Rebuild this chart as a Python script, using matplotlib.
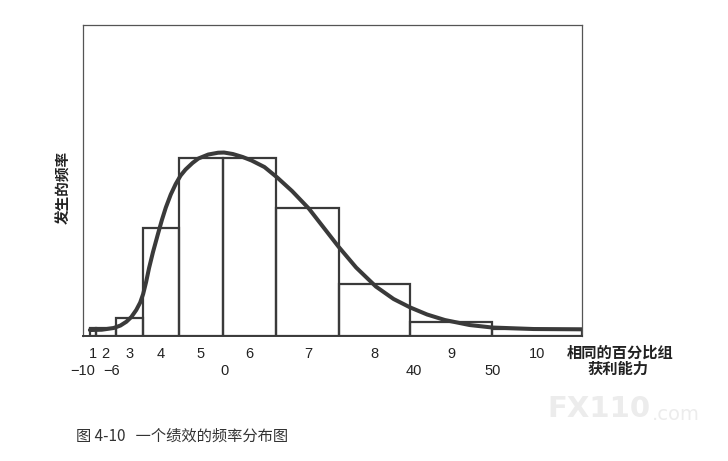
import matplotlib.pyplot as plt
import numpy as np

plt.rcParams['font.family'] = ['Liberation Sans', 'Noto Sans CJK SC', 'DejaVu Sans']

# histogram of groups 1..10 (bin edges in chart units, frequency heights)
groups = ['1', '2', '3', '4', '5', '6', '7', '8', '9', '10']
edges = [0, 6, 26, 54, 90, 135, 189, 253, 325, 408, 499]
freq = [7.7, 7.7, 18, 108, 178, 178, 128, 52, 14.5, 7]

# profit labels under the bins
profit_pos = [-7, 22, 137, 328, 408]
profit_labels = ['\u221210', '\u22126', '0', '40', '50']

# smooth fitted curve
curve_x = [0, 12, 24, 31, 37, 42, 47, 51, 54, 57, 60, 64, 69, 73, 77, 82, 87,
           92, 97, 104, 110, 120, 130, 136, 145, 155, 164, 177, 190, 205, 222,
           237, 252, 270, 290, 308, 325, 342, 360, 385, 408, 450, 499]
curve_y = [6, 6.3, 8, 10.5, 14.3, 19, 26, 33.5, 42, 54, 68, 84, 102, 116, 128.5,
           141.5, 152, 160.5, 166.5, 173, 177.5, 181.5, 183.3, 183.5, 182, 179,
           175.5, 169, 158.5, 145, 127.5, 108.5, 89.5, 68.5, 49.5, 37, 28.5,
           21.5, 16, 11, 8.5, 7, 6.7]

fig = plt.figure(figsize=(7.28, 4.61), dpi=100)
ax = fig.add_axes([0.114, 0.2711, 0.6854, 0.6746])

ink = '#3a3a3a'
lefts = np.array(edges[:-1])
widths = np.diff(edges)
ax.bar(lefts, freq, width=widths, align='edge', facecolor='none',
       edgecolor=ink, linewidth=1.6)
ax.plot(curve_x, curve_y, color=ink, linewidth=2.9, solid_capstyle='round',
        solid_joinstyle='round')

ax.set_xlim(edges[0], edges[-1])
ax.set_ylim(0, 311)
ax.set_yticks([])

centers = lefts + widths / 2
ax.set_xticks(centers, groups)
ax.set_xticks(profit_pos, profit_labels, minor=True)
ax.tick_params(axis='x', which='major', length=0, pad=8, labelsize=10.5,
               colors='#222222')
ax.tick_params(axis='x', which='minor', length=0, pad=20, labelsize=10.5,
               colors='#222222')

for s in ['left', 'top', 'right']:
    ax.spines[s].set_linewidth(0.9)
    ax.spines[s].set_color('#555555')
ax.spines['bottom'].set_linewidth(1.4)
ax.spines['bottom'].set_color(ink)

cjk = ['Noto Sans CJK SC', 'DejaVu Sans']
fig.text(0.087, 0.594, '发生的频率', rotation=90, ha='center', va='center',
         fontsize=10.5, fontweight='bold', family=cjk, color='#222222')
fig.text(0.778, 0.236, '相同的百分比组', ha='left', va='center',
         fontsize=11, fontweight='bold', family=cjk, color='#222222')
fig.text(0.849, 0.201, '获利能力', ha='center', va='center',
         fontsize=11, fontweight='bold', family=cjk, color='#222222')

fig.text(0.105, 0.054, '图 4-10   一个绩效的频率分布图', ha='left', va='center',
         fontsize=11, family=cjk, color='#333333')

# faint watermark
fig.text(0.893, 0.112, 'FX110', ha='right', va='center', fontsize=21,
         fontweight='bold', family=['DejaVu Sans'], color='#ececec')
fig.text(0.895, 0.100, '.com', ha='left', va='center', fontsize=14,
         family=['DejaVu Sans'], color='#ececec')

fig.savefig('out.png', dpi=100)
